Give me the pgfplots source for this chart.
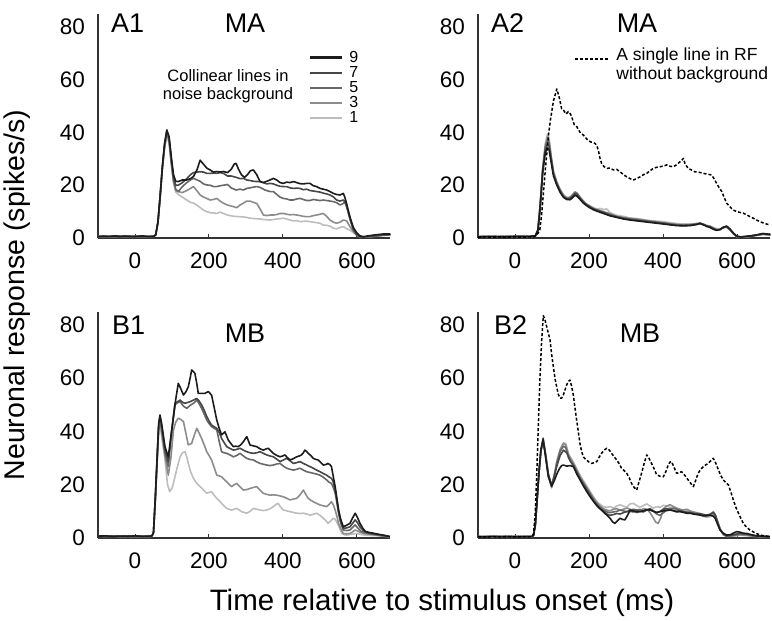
\documentclass[border=0pt]{standalone}
\usepackage{fontspec}
\setmainfont{Liberation Sans}
\usepackage{pgfplots}
\pgfplotsset{compat=1.18}
\definecolor{c9}{HTML}{1C1C1C}
\definecolor{c7}{HTML}{474747}
\definecolor{c5}{HTML}{686868}
\definecolor{c3}{HTML}{8C8C8C}
\definecolor{c1}{HTML}{BDBDBD}
\pgfplotsset{
  panel/.style={
    scale only axis, width=292.3pt,
    xmin=-100, xmax=690, ymin=0, ymax=85,
    axis x line*=bottom, axis y line*=left,
    axis line style={-, line width=1.4pt, draw=black!80},
    xtick={0,200,400,600}, ytick={0,20,40,60,80},
    tick align=inside, major tick length=4pt,
    xtick style={line width=1pt, draw=black!80},
    ytick style={draw=none},
    /pgf/number format/assume math mode=true,
    tick label style={font=\fontsize{22.5}{22.5}\selectfont, inner sep=0pt},
    xticklabel shift=15pt, yticklabel shift=13pt,
    every axis plot/.append style={line width=1.6pt, line join=round, mark=none},
  },
  dashedline/.style={black, line width=1.5pt, dash pattern=on 3pt off 2pt},
}
\begin{document}
\begin{tikzpicture}[x=1pt,y=1pt]
\useasboundingbox (0,0) rectangle (772,621);

% ---------------- A1 ----------------
\begin{axis}[panel, height=224.2pt, at={(98pt,383pt)}, anchor=south west,
  legend style={at={(0.71,0.845)}, anchor=north west, draw=none, fill=none,
    row sep=1.5pt, column sep=6pt,
    nodes={inner sep=0.5pt, anchor=west, font=\fontsize{16}{16}\selectfont}},
  legend image code/.code={\path[draw, #1, line width=2.2pt] (0pt,0pt) -- (32pt,0pt);},
  reverse legend]
\addplot[c1] coordinates {(-100,0.5) (-85,0.6) (-70,0.4) (-55,0.7) (-40,0.6) (-25,0.5) (-10,0.6) (5,0.5) (20,0.7) (35,0.5) (50,0.6) (56,1.1) (62,5.5) (68,15) (74,26) (80,34) (86,38.5) (92,36) (98,28) (104,21) (110,17.5) (117,16.5) (128,15.5) (140,14.4) (150,13.5) (158,13.2) (167,12.5) (176,11.5) (185,10.6) (194,10) (203,9.6) (212,9.5) (221,9.3) (230,9.8) (239,9.3) (250,8.7) (260,8.4) (270,8.2) (280,8.1) (293,8) (302,7.8) (311,7.5) (320,7.4) (329,7.3) (338,7.2) (347,7) (356,6.9) (365,6.8) (374,7) (383,7.2) (392,7.3) (401,7.5) (410,7.2) (419,6.8) (428,6.5) (437,6.6) (446,6.2) (455,6.3) (464,6.4) (473,6.2) (482,6) (491,5.8) (500,5.6) (509,4.9) (518,4.8) (527,4.5) (536,3.7) (545,3.5) (554,4) (563,4.3) (572,3.5) (581,3) (590,2) (599,1.2) (608,0.6) (620,0.4) (640,0.8) (670,1.2) (690,1.3)};
\addlegendentry{1}
\addplot[c3] coordinates {(-100,0.6) (-85,0.5) (-70,0.7) (-55,0.5) (-40,0.6) (-25,0.8) (-10,0.5) (5,0.6) (20,0.5) (35,0.7) (50,0.6) (56,1.2) (62,5.8) (68,15.5) (74,26.5) (80,34.5) (86,39.5) (92,37) (98,28.5) (104,21.5) (110,18) (117,17.6) (128,17.2) (140,18) (150,18.8) (158,19.5) (167,18) (176,16.3) (185,15.5) (194,15) (203,14.4) (212,14.6) (221,15) (230,14) (239,13.2) (250,12.5) (266,11.9) (275,11.5) (284,12.5) (293,13.2) (302,14) (311,14) (320,13.5) (329,13.1) (338,11) (347,8.7) (356,8.5) (365,8.7) (374,8.7) (383,8.9) (392,9.3) (401,9.3) (410,9) (419,8.8) (428,8.9) (437,8.7) (446,8.5) (455,8.2) (464,8.1) (473,8.1) (482,8.5) (491,8.7) (500,9) (509,9.3) (518,8.2) (527,6.8) (536,6) (545,5.6) (554,6) (563,6.8) (572,6.5) (581,4.3) (590,2.5) (599,1.2) (608,0.4) (620,0.2) (640,0.5) (670,1) (690,1.2)};
\addlegendentry{3}
\addplot[c5] coordinates {(-100,0.5) (-85,0.7) (-70,0.6) (-55,0.5) (-40,0.7) (-25,0.6) (-10,0.5) (5,0.7) (20,0.6) (35,0.5) (50,0.7) (56,1.2) (62,6) (68,16) (74,27) (80,35) (86,40) (92,37.5) (98,29) (104,22) (110,18.5) (117,17.6) (128,19.5) (140,21) (150,22) (158,22.6) (168,22) (176,21.5) (185,20.5) (194,20.1) (203,20) (212,19.5) (221,19.5) (230,19.8) (239,20) (250,20.3) (260,19) (273,18.2) (284,18.5) (293,18.2) (302,18.8) (311,19) (320,19.3) (329,19.5) (338,19.2) (351,18.2) (365,17.6) (374,17.6) (383,16.5) (392,15.5) (401,15) (410,14.8) (419,14.4) (428,14.4) (437,14.8) (446,15) (455,14.6) (464,14.2) (473,14.2) (482,14.6) (491,14.4) (500,14.2) (509,14.4) (518,14.2) (527,14) (536,13.8) (545,13.4) (554,12.5) (563,13.1) (567,13.8) (572,12) (581,7) (590,3) (599,1) (608,0.4) (620,0.3) (640,0.6) (670,1) (690,1.2)};
\addlegendentry{5}
\addplot[c7] coordinates {(-100,0.6) (-85,0.5) (-70,0.6) (-55,0.7) (-40,0.5) (-25,0.6) (-10,0.7) (5,0.5) (20,0.6) (35,0.6) (50,0.5) (56,1.2) (62,6) (68,16) (74,27) (80,35.5) (86,40.5) (92,38) (98,30) (104,23) (110,20) (117,20) (128,21) (140,22.5) (150,24) (158,24.8) (168,25) (176,25.1) (185,25) (194,24.5) (203,24.5) (212,24.6) (221,24.5) (230,24.8) (239,24.5) (250,23.5) (260,23.5) (273,23) (284,22.5) (293,22.6) (302,22) (311,21.8) (320,21.5) (329,21.4) (338,21.4) (347,21) (356,20.5) (365,20.7) (374,20.5) (383,20) (392,19.6) (401,19.5) (410,19.5) (419,19) (428,18.8) (437,18.9) (446,18.8) (455,18.3) (464,18.5) (473,18) (482,17.8) (491,17.6) (500,17.4) (509,17) (518,16.7) (527,16.3) (536,15.6) (545,14.4) (554,14) (563,14.4) (567,13.8) (572,12) (581,7.5) (590,3.5) (599,1.5) (608,0.5) (617,0.3) (640,0.8) (670,1.2) (690,1.3)};
\addlegendentry{7}
\addplot[c9] coordinates {(-100,0.5) (-85,0.7) (-70,0.5) (-55,0.8) (-40,0.6) (-25,0.7) (-10,0.5) (5,0.6) (20,0.8) (35,0.5) (50,0.6) (56,1.2) (62,6) (68,16) (74,27) (80,36) (86,41) (92,38.5) (98,31) (104,24) (110,21.5) (117,21.4) (128,22) (140,22) (150,22.5) (158,23.3) (168,26) (176,29.5) (185,28) (194,26.5) (203,25.8) (212,25) (221,25.2) (230,25) (239,25.2) (250,24.8) (260,26) (268,28) (273,28.3) (280,26) (288,23.9) (296,23) (304,24) (312,25.5) (320,25.8) (329,24) (338,21.4) (347,21) (356,21.5) (365,22) (374,22.6) (383,22) (392,21) (401,20.7) (410,21.2) (419,21) (428,21.4) (437,21) (446,20.6) (455,20.5) (464,20.7) (473,20.7) (482,19.8) (491,19.5) (500,18.8) (509,18.5) (518,18.2) (527,17.6) (536,16.9) (545,16.5) (554,16.3) (563,16.9) (567,15.5) (572,13) (581,8) (590,4) (599,2) (608,0.8) (617,0.5) (630,0.8) (650,1.2) (670,1.5) (690,1.5)};
\addlegendentry{9}
\end{axis}

% ---------------- A2 ----------------
\begin{axis}[panel, height=224.2pt, at={(478pt,383pt)}, anchor=south west,
  legend style={at={(0.318,0.865)}, anchor=north west, draw=none, fill=none,
    column sep=6pt,
    nodes={inner sep=0.5pt, anchor=west, font=\fontsize{17.5}{19}\selectfont}},
  legend image code/.code={\path[draw, #1, line width=1.8pt] (0pt,0pt) -- (34pt,0pt);}]
\addplot[c1, forget plot] coordinates {(-100,0.4) (-80,0.6) (-60,0.5) (-40,0.7) (-20,0.5) (0,0.6) (20,0.5) (40,0.6) (55,0.8) (62,3) (68,13) (75,27) (82,36) (88,39.5) (92,38) (98,31) (104,25.5) (113,21.5) (122,18.5) (131,16.5) (140,15.5) (149,15.2) (156,16) (162,16.5) (168,16) (176,14.8) (185,13.5) (194,12.8) (203,12.2) (212,11.5) (221,11) (230,11.2) (239,10.8) (248,11) (257,9.6) (275,8.6) (293,8.2) (311,7.6) (329,7.4) (347,7) (365,6.6) (383,6.4) (401,6.2) (419,5.8) (437,5.5) (455,5.3) (473,5.3) (491,5.5) (500,5.4) (509,5) (518,4.8) (527,4.6) (536,4) (545,3.5) (554,3.4) (563,3.8) (572,4) (581,3) (590,1.6) (599,0.5) (610,0.3) (630,0.5) (650,0.9) (670,1.3) (690,1.1)};
\addplot[c3, forget plot] coordinates {(-100,0.5) (-80,0.4) (-60,0.6) (-40,0.5) (-20,0.7) (0,0.5) (20,0.6) (40,0.5) (55,0.8) (62,3) (68,12.5) (75,26.5) (82,35) (88,38.5) (92,37) (98,30.5) (104,25) (113,21) (122,18.2) (131,16) (140,15.2) (149,15.5) (156,16.5) (162,17.5) (168,17) (176,15.5) (185,14) (194,12.8) (203,12) (212,11.2) (221,10.8) (239,10) (257,9.2) (275,8.2) (293,7.8) (311,7.4) (329,7.2) (347,6.8) (365,6.4) (383,6.1) (401,5.8) (419,5.5) (437,5.2) (455,5) (473,5.1) (491,5.4) (500,5.7) (509,5.3) (518,4.7) (527,4.4) (536,3.8) (545,3.2) (554,3.3) (563,4) (572,4.2) (581,3.1) (590,1.7) (599,0.5) (610,0.4) (630,0.6) (650,1) (670,1.4) (690,1.2)};
\addplot[c5, forget plot] coordinates {(-100,0.6) (-80,0.5) (-60,0.4) (-40,0.6) (-20,0.5) (0,0.7) (20,0.5) (40,0.6) (55,0.8) (62,3) (68,12) (75,26) (82,34.5) (88,37) (92,36) (98,30) (104,24.5) (113,20.7) (122,18) (131,15.8) (140,15) (149,15.2) (156,16.2) (162,17.2) (168,16.8) (176,15.2) (185,13.7) (194,12.6) (203,11.9) (212,11.1) (221,10.7) (239,9.8) (257,8.9) (275,8.1) (293,7.6) (311,7.2) (329,6.9) (347,6.6) (365,6.3) (383,6) (401,5.7) (419,5.3) (437,5) (455,4.9) (473,5) (491,5.3) (500,5.6) (509,5.2) (518,4.6) (527,4.3) (536,3.7) (545,3.1) (554,3.2) (563,4) (572,4.3) (581,3.2) (590,1.8) (599,0.6) (610,0.4) (630,0.6) (650,1) (670,1.5) (690,1.2)};
\addplot[c7, forget plot] coordinates {(-100,0.5) (-80,0.6) (-60,0.5) (-40,0.4) (-20,0.6) (0,0.5) (20,0.7) (40,0.5) (55,0.8) (62,3) (68,12) (75,25.5) (82,33.5) (88,35.5) (92,34.8) (98,29.5) (104,24.2) (113,20.5) (122,17.8) (131,15.6) (140,14.8) (149,14.8) (156,15.8) (162,16.8) (168,16.4) (176,15) (185,13.5) (194,12.5) (203,11.7) (212,11) (221,10.5) (239,9.6) (257,8.6) (275,8) (293,7.4) (311,7) (329,6.7) (347,6.4) (365,6.1) (383,5.8) (401,5.5) (419,5.1) (437,4.8) (455,4.7) (473,4.8) (491,5.2) (500,5.5) (509,5.1) (518,4.5) (527,4.2) (536,3.5) (545,3) (554,3.2) (563,4) (572,4.4) (581,3.3) (590,1.8) (599,0.6) (610,0.4) (630,0.6) (650,1) (670,1.6) (690,1.3)};
\addplot[c9, forget plot] coordinates {(-100,0.4) (-80,0.5) (-60,0.6) (-40,0.5) (-20,0.4) (0,0.6) (20,0.5) (40,0.6) (55,0.8) (62,3) (68,11.5) (75,25) (82,32.5) (88,34) (92,33.5) (98,28.5) (104,23.5) (113,20) (122,17.3) (131,15.4) (140,14.6) (149,14.5) (156,15.3) (162,16.2) (168,15.8) (176,14.6) (185,13.2) (194,12.2) (203,11.4) (212,10.7) (221,10.2) (239,9.3) (257,8.4) (275,7.8) (293,7.2) (311,6.8) (329,6.5) (347,6.2) (365,5.9) (383,5.6) (401,5.3) (419,5) (437,4.7) (455,4.6) (473,4.7) (491,5.1) (500,5.5) (509,5) (518,4.4) (527,4) (536,3.3) (545,2.9) (554,3.2) (563,4.1) (572,4.5) (581,3.4) (590,1.9) (599,0.7) (610,0.4) (630,0.7) (650,1.1) (670,1.7) (690,1.4)};
\addplot[dashedline] coordinates {(-100,0.3) (-80,0.4) (-60,0.3) (-40,0.4) (-20,0.3) (0,0.4) (20,0.3) (40,0.4) (50,0.5) (58,1) (63,2) (67,3) (72,9) (76,15.7) (82,26) (90,38.4) (96,45) (104,52) (113,56.5) (120,53) (126,49) (131,48.5) (138,47) (144,47.9) (150,47) (153,46) (160,43) (167,42.2) (176,40) (185,39) (194,37.5) (203,36.5) (210,36.2) (216,35.9) (221,35) (225,33.4) (230,30) (234,28.3) (241,27) (248,26.4) (257,26.5) (266,25.8) (275,26) (284,25.1) (293,24) (302,23.2) (311,22.5) (320,22) (329,22.5) (338,23.2) (347,24) (356,24.5) (365,25.5) (374,26.4) (383,26.8) (392,27) (401,27.3) (410,27.7) (419,27.2) (428,27) (437,27.8) (446,28.9) (451,29.5) (455,30.2) (460,28) (468,26.4) (477,25.8) (486,25.1) (495,25) (509,24.5) (520,24.2) (531,23.9) (538,22.5) (545,20.7) (552,19) (559,17.6) (565,15.5) (572,13.2) (581,11.8) (590,10.6) (599,10) (608,9.7) (617,9.4) (626,8.8) (635,8.1) (644,7.5) (653,6.8) (662,6.2) (671,5.7) (680,5.3) (689,4.9)};
\addlegendentry{\begin{tabular}{@{}l@{}}A single line in RF\\without background\end{tabular}}
\end{axis}

% ---------------- B1 ----------------
\begin{axis}[panel, height=226.3pt, at={(98pt,83pt)}, anchor=south west]
\addplot[c1] coordinates {(-100,0.8) (-80,0.6) (-60,0.7) (-40,0.5) (-20,0.6) (0,0.5) (20,0.6) (40,0.5) (46,0.8) (50,2) (55,14) (60,29) (64,40) (67.5,43) (72,38) (81,29.3) (88,20) (94,17.4) (101,19) (108,23) (115,27) (122,30.5) (128,32) (135,32.4) (140,30.5) (144,28) (150,25) (158,22.4) (167,20.5) (176,19.3) (185,18) (194,16.8) (207,17.4) (214,16) (221,14.9) (228,14) (234,13) (241,12) (248,11.1) (261,10.5) (275,11.1) (288,9.9) (302,9.3) (311,10) (320,11.1) (329,10.8) (338,10.5) (347,10.3) (356,10.5) (365,11) (374,11.8) (380,12.5) (387,13) (394,11.5) (401,10.5) (410,10.2) (419,9.9) (428,9.6) (437,9.3) (446,9.2) (455,9.3) (464,9) (473,8.6) (482,8.9) (491,9.3) (500,8.5) (509,7.4) (516,6.5) (522,5.5) (529,6.5) (536,7.4) (541,7) (545,6.1) (552,4) (559,1.7) (566,1.2) (572,1.1) (585,1.4) (599,1.7) (612,1.3) (626,1) (650,0.9) (670,0.7) (689,0.5)};
\addplot[c3] coordinates {(-100,0.6) (-80,0.8) (-60,0.6) (-40,0.7) (-20,0.5) (0,0.7) (20,0.5) (40,0.6) (46,0.8) (50,2) (55,14.5) (60,29.5) (64,41) (67.5,44.3) (72,40) (81,31) (90,23.6) (97,30) (104,40.6) (110,43.5) (117,45) (124,44.5) (131,43.7) (138,39) (144,35) (153,35.5) (160,38.5) (167,41.2) (173,39.5) (180,37.4) (187,35) (194,32.4) (200,31) (207,29.3) (214,26.5) (221,23.6) (234,23) (241,22) (248,21.1) (255,20) (261,19.3) (268,20) (275,20.5) (284,19.2) (293,18) (302,18.2) (311,18.6) (320,19) (329,19.3) (338,18) (347,16.8) (356,16.4) (365,16.1) (374,16.2) (383,16.1) (392,15.8) (401,15.5) (410,14.9) (419,14.3) (428,14.6) (437,14.9) (446,16.2) (455,18) (461,16.5) (468,14.9) (475,14.2) (482,13.6) (491,13) (500,12.4) (509,12.1) (518,11.8) (524,12.5) (531,13.6) (536,12.5) (541,10.5) (546,8) (550,5.5) (556,3.5) (563,1.7) (572,1.6) (581,1.7) (588,2.3) (595,3) (603,2.5) (617,1.7) (635,1.4) (653,1.1) (670,0.8) (689,0.5)};
\addplot[c5] coordinates {(-100,0.7) (-80,0.5) (-60,0.8) (-40,0.6) (-20,0.7) (0,0.5) (20,0.6) (40,0.7) (46,0.8) (50,2) (55,15) (60,30) (64,42) (67.5,45) (72,41) (81,32) (90,26.8) (99,40) (108,50) (115,50.8) (122,51.2) (131,49.5) (140,48.7) (149,49.8) (158,50.6) (167,51.8) (173,50.5) (180,48.7) (187,46.5) (194,44.3) (200,43) (207,41.8) (214,41.2) (221,40.6) (228,36) (234,32.4) (241,32) (248,31.8) (257,31.2) (266,30.5) (275,31) (284,31.8) (293,30.8) (302,29.9) (311,29.5) (320,29.3) (329,28.6) (338,28) (347,27.7) (356,27.4) (365,27.2) (374,27.4) (383,27.8) (392,28) (401,27) (410,26.2) (419,25.8) (428,25.5) (437,25.8) (446,26.2) (455,25.5) (464,24.9) (473,24.6) (482,24.3) (491,24) (500,23.6) (509,22.8) (518,21.8) (524,21) (531,20.5) (536,19) (541,16.8) (546,13) (550,9.3) (556,5.5) (563,3) (572,2.8) (581,3) (588,4) (595,4.9) (603,3.6) (612,2.4) (628,1.8) (644,1.4) (665,0.9) (689,0.5)};
\addplot[c7] coordinates {(-100,0.8) (-80,0.7) (-60,0.5) (-40,0.6) (-20,0.8) (0,0.6) (20,0.7) (40,0.5) (46,0.8) (50,2) (55,15) (60,30.5) (64,42.5) (67.5,45.6) (72,42) (81,33) (90,28.7) (99,40) (108,50.6) (115,51.2) (122,51.8) (128,51) (135,50.6) (142,50.9) (149,51.2) (158,51.8) (167,52.4) (173,51.5) (180,50) (187,48) (194,45.6) (200,44) (207,42.4) (214,41.8) (221,41.2) (228,39.5) (234,37.4) (241,35.8) (248,34.3) (257,33.6) (266,33) (275,33.3) (284,33.7) (293,33) (302,32.4) (311,32) (320,31.8) (329,32) (338,32.4) (347,31.8) (356,31.2) (365,30.8) (374,30.5) (383,29.6) (392,28.7) (401,29.3) (410,29.9) (419,29) (428,28) (437,28.3) (446,28.7) (455,28) (464,27.4) (473,26.8) (482,26.2) (491,25.5) (500,24.9) (509,24.2) (518,23.6) (524,23) (531,22.4) (536,21) (541,18) (546,14) (550,10.5) (556,6.5) (563,3.6) (572,3.8) (581,4.2) (588,5.5) (595,6.8) (601,5.8) (608,4.2) (617,2.8) (626,2) (640,1.6) (653,1.4) (670,1) (689,0.5)};
\addplot[c9] coordinates {(-100,0.7) (-80,0.8) (-60,0.6) (-40,0.7) (-20,0.6) (0,0.8) (20,0.6) (40,0.7) (46,0.9) (50,2) (55,15.5) (60,31) (64,43) (67.5,46.2) (72,43) (81,34.3) (90,30.5) (97,38) (104,45.6) (110,52) (117,58.1) (124,56) (131,53.7) (138,55) (144,56.8) (149,60) (153,63.1) (158,62.5) (162,61.8) (167,58) (171,54.3) (180,54.3) (189,54.3) (198,55) (207,53.7) (214,49) (221,44.3) (228,41) (234,38.7) (243,39.9) (252,36.8) (259,35.5) (266,34.3) (272,34.5) (279,34.3) (286,35) (293,36.2) (302,38.1) (311,34.9) (320,34.6) (329,34.3) (338,33.5) (347,33) (355,33.5) (360,33.7) (367,32.8) (374,31.8) (383,31) (392,30.5) (399,30.8) (405,31.2) (412,30.2) (419,29.3) (428,29.8) (437,30.5) (444,30.8) (450,31.2) (455,32) (459,33) (464,32.5) (468,31.8) (475,31) (482,29.9) (489,29.5) (495,29.3) (502,28.4) (509,27.4) (516,27.6) (522,28) (527,27.5) (531,26.8) (536,23) (541,19.3) (546,14.5) (550,10.5) (556,7) (563,4.2) (572,4.8) (581,5.5) (588,7.5) (595,9.3) (601,7.8) (608,5.5) (615,3.8) (622,2.5) (633,2.1) (644,1.8) (658,1.4) (671,1.1) (689,0.5)};
\end{axis}

% ---------------- B2 ----------------
\begin{axis}[panel, height=226.3pt, at={(478pt,83pt)}, anchor=south west]
\addplot[c1] coordinates {(-100,0.5) (-80,0.6) (-60,0.4) (-40,0.6) (-20,0.5) (0,0.6) (20,0.4) (45,0.5) (50,1) (55,5) (60,15) (65,25) (70,32.5) (76,36) (82,31.5) (90,23.5) (99,18.8) (106,23) (113,29) (122,33.5) (131,35.8) (137,35.5) (145,31.5) (158,28.5) (167,26) (176,23.5) (185,21.5) (194,19.5) (203,17.5) (212,15.5) (221,13.8) (230,12.6) (239,11.8) (248,11.5) (257,11.8) (266,11.2) (275,12) (284,12.5) (293,12) (302,11.5) (311,12.8) (320,13) (329,12.2) (338,11.5) (347,12.2) (356,12.8) (365,12) (374,11.2) (383,11.8) (392,11.5) (401,12.3) (410,12) (419,11.5) (428,11) (437,11.2) (446,10.5) (455,10.2) (464,10.5) (473,9.8) (482,9.5) (491,9.2) (500,8.8) (509,8.2) (518,7.8) (527,8) (536,8.5) (541,8) (548,5.5) (554,3.2) (563,1.2) (572,0.6) (590,0.8) (608,1) (626,0.9) (650,0.6) (689,0.5)};
\addplot[c3] coordinates {(-100,0.6) (-80,0.4) (-60,0.5) (-40,0.5) (-20,0.6) (0,0.4) (20,0.6) (45,0.5) (50,1) (55,5) (60,15) (65,25) (70,32.8) (76,36.2) (82,31.8) (90,23.8) (99,19) (106,23.5) (113,28.5) (122,33) (131,35.5) (137,35) (145,31) (158,28) (167,25.5) (176,23) (185,21) (194,19) (203,17) (212,15) (221,13.3) (230,12) (239,11) (248,10.5) (257,10.2) (266,10.8) (275,11) (284,10.5) (293,10.8) (302,11.2) (311,10.8) (320,10.2) (329,9.5) (338,10.2) (347,11) (356,10.8) (365,9.5) (374,7.5) (380,6) (387,5.5) (394,7.5) (401,11) (410,12) (419,12.5) (428,11.8) (437,11.2) (446,10.8) (455,10.5) (464,10.8) (473,10.2) (482,9.8) (491,9.5) (500,9.2) (509,8.5) (518,8) (527,8.5) (536,9.3) (541,8.8) (548,6) (554,3.5) (563,1.3) (572,0.6) (590,0.8) (608,1.2) (626,1) (650,0.6) (689,0.5)};
\addplot[c5] coordinates {(-100,0.5) (-80,0.5) (-60,0.6) (-40,0.4) (-20,0.5) (0,0.6) (20,0.5) (45,0.6) (50,1) (55,5) (60,15) (65,25) (70,33) (76,36.5) (82,32) (90,24) (99,19.3) (106,23.5) (113,28) (122,32.5) (131,34.5) (137,34) (145,30) (158,27.5) (167,25) (176,22.5) (185,20.5) (194,18.5) (203,16.5) (212,14.5) (221,12.8) (230,11.5) (239,10.5) (248,9.8) (257,9.5) (266,9.8) (275,10) (284,10.5) (293,10.2) (302,9.8) (311,10.5) (320,10.8) (329,10.5) (338,10.7) (347,10.2) (356,10.6) (365,10.8) (374,10) (383,9) (392,8.5) (401,9.5) (410,10.5) (419,11) (428,11.2) (437,10.8) (446,10.2) (455,10) (464,9.8) (473,9.5) (482,9.3) (491,9.2) (500,9) (509,8.8) (518,8.5) (527,8.8) (536,9.8) (541,8.8) (548,6) (554,3.5) (563,1.5) (572,0.8) (590,1) (608,1.5) (626,1.3) (650,0.7) (689,0.5)};
\addplot[c7] coordinates {(-100,0.4) (-80,0.6) (-60,0.5) (-40,0.6) (-20,0.4) (0,0.5) (20,0.6) (45,0.5) (50,1) (55,5) (60,15) (65,25) (70,33) (76,37.5) (82,32) (90,24) (99,19.8) (106,23) (113,27) (122,31) (131,33) (140,32) (149,29) (158,27) (167,24.5) (176,22) (185,20) (194,18) (203,16) (212,14) (221,12.5) (230,11) (239,10) (248,9) (257,8.5) (266,8.8) (275,9.2) (284,9) (293,9.5) (302,10) (311,10) (320,9.8) (329,10.2) (338,10) (347,9.8) (356,10.5) (365,11) (374,10.2) (383,9.5) (392,10) (401,10.8) (410,11) (419,10.6) (428,10.4) (437,10) (446,10.3) (455,9.8) (464,9.5) (473,9.6) (482,9.2) (491,9) (500,9.1) (509,8.8) (518,8.6) (527,8.9) (536,9.5) (541,8.5) (548,5.5) (554,3.2) (563,1.5) (572,0.8) (590,1.2) (608,1.8) (626,1.5) (650,0.8) (689,0.5)};
\addplot[c9] coordinates {(-100,0.5) (-80,0.4) (-60,0.6) (-40,0.5) (-20,0.6) (0,0.5) (20,0.4) (45,0.5) (50,1) (55,5) (60,15) (65,25) (70,33) (76,37) (82,31) (90,23) (99,19.5) (106,21.5) (113,24) (120,26) (126,27.2) (131,27.4) (140,27) (149,27.2) (158,26.8) (167,24) (176,21.8) (185,19.5) (194,17.4) (203,15.5) (216,13) (225,11.5) (234,10.5) (245,9) (257,7.4) (264,6) (270,5.5) (277,6.5) (284,7.4) (290,7) (297,6.8) (304,8.5) (311,10.5) (320,10.2) (329,9.8) (338,9.9) (347,10.2) (356,10.6) (365,10.5) (374,10) (383,9.6) (392,9.9) (401,10.2) (410,10.3) (419,10.5) (428,10.2) (437,9.8) (446,9.9) (455,9.6) (464,9.3) (473,9.3) (482,9) (491,8.8) (500,8.6) (509,8.3) (518,8.4) (527,8.6) (536,8.2) (541,7.4) (548,5) (554,3) (563,1.8) (572,1.1) (581,1.2) (590,1.8) (599,2.4) (608,2.2) (617,1.8) (626,1.7) (640,1.2) (653,0.8) (670,0.6) (689,0.5)};
\addplot[dashedline] coordinates {(-100,0.5) (-80,0.4) (-60,0.5) (-40,0.4) (-20,0.5) (0,0.4) (20,0.5) (45,0.5) (50,1.5) (55,10) (58.5,23) (63,42) (67.5,60.6) (72,74) (76.5,83.5) (81,82) (85.5,79.4) (90,77) (94.6,74.4) (99,69) (103.6,64.4) (108,60) (112.6,56.8) (117,54) (121.6,52.5) (126,52.5) (130.6,53.7) (135,55.5) (139.6,57.5) (144,58.8) (148.6,59.3) (153,57) (157.6,53.7) (162,49) (166.6,44.3) (171,40) (175.6,35.5) (180,32.5) (184.6,30.5) (189,29.8) (193.6,29.3) (200,28.5) (207,28) (214,28.3) (221,28.7) (228,30.5) (234,31.8) (241,33) (248,33.7) (255,33) (261,31.8) (268,30.5) (275,29.3) (282,27.8) (288,26.2) (295,25.3) (302,24.3) (309,22.5) (315,20.5) (322,19) (329,18) (335,21) (342,24.3) (349,28) (356,31.2) (362,30) (369,28) (376,26) (383,23.7) (392,23.2) (401,23) (408,25) (414,27.4) (419,28.5) (423,28.7) (430,26.5) (437,24.3) (444,24.6) (450,24.9) (459,23.5) (468,21.8) (475,20.5) (482,19.3) (488,21.5) (495,24.3) (502,25.8) (509,26.8) (515,27.4) (522,28) (529,29) (536,29.9) (543,28) (550,25.5) (556,23.5) (563,21.8) (570,20.8) (577,19.9) (584,17) (590,14.3) (597,11.5) (604,9.3) (610,7.5) (617,5.5) (626,4) (635,3) (648,2) (662,1.1) (675,0.8) (689,0.5)};
\end{axis}

% ---------------- texts ----------------
\begin{scope}[every node/.style={inner sep=0pt}]
\node[anchor=west, font=\fontsize{27}{27}\selectfont] at (111,598) {A1};
\node[font=\fontsize{27}{27}\selectfont] at (245,598) {MA};
\node[anchor=west, font=\fontsize{27}{27}\selectfont] at (491,598) {A2};
\node[font=\fontsize{27}{27}\selectfont] at (637,598) {MA};
\node[anchor=west, font=\fontsize{27}{27}\selectfont] at (112,296) {B1};
\node[font=\fontsize{27}{27}\selectfont] at (245,288) {MB};
\node[anchor=west, font=\fontsize{27}{27}\selectfont] at (494,296) {B2};
\node[font=\fontsize{27}{27}\selectfont] at (640,288) {MB};
\node[align=center, font=\fontsize{16.5}{18}\selectfont] at (228,535) {Collinear lines in\\noise background};
\node[rotate=90, font=\fontsize{28.5}{28.5}\selectfont] at (17,326) {Neuronal response (spikes/s)};
\node[font=\fontsize{29.5}{29.5}\selectfont] at (442,18) {Time relative to stimulus onset (ms)};
\end{scope}
\end{tikzpicture}
\end{document}
